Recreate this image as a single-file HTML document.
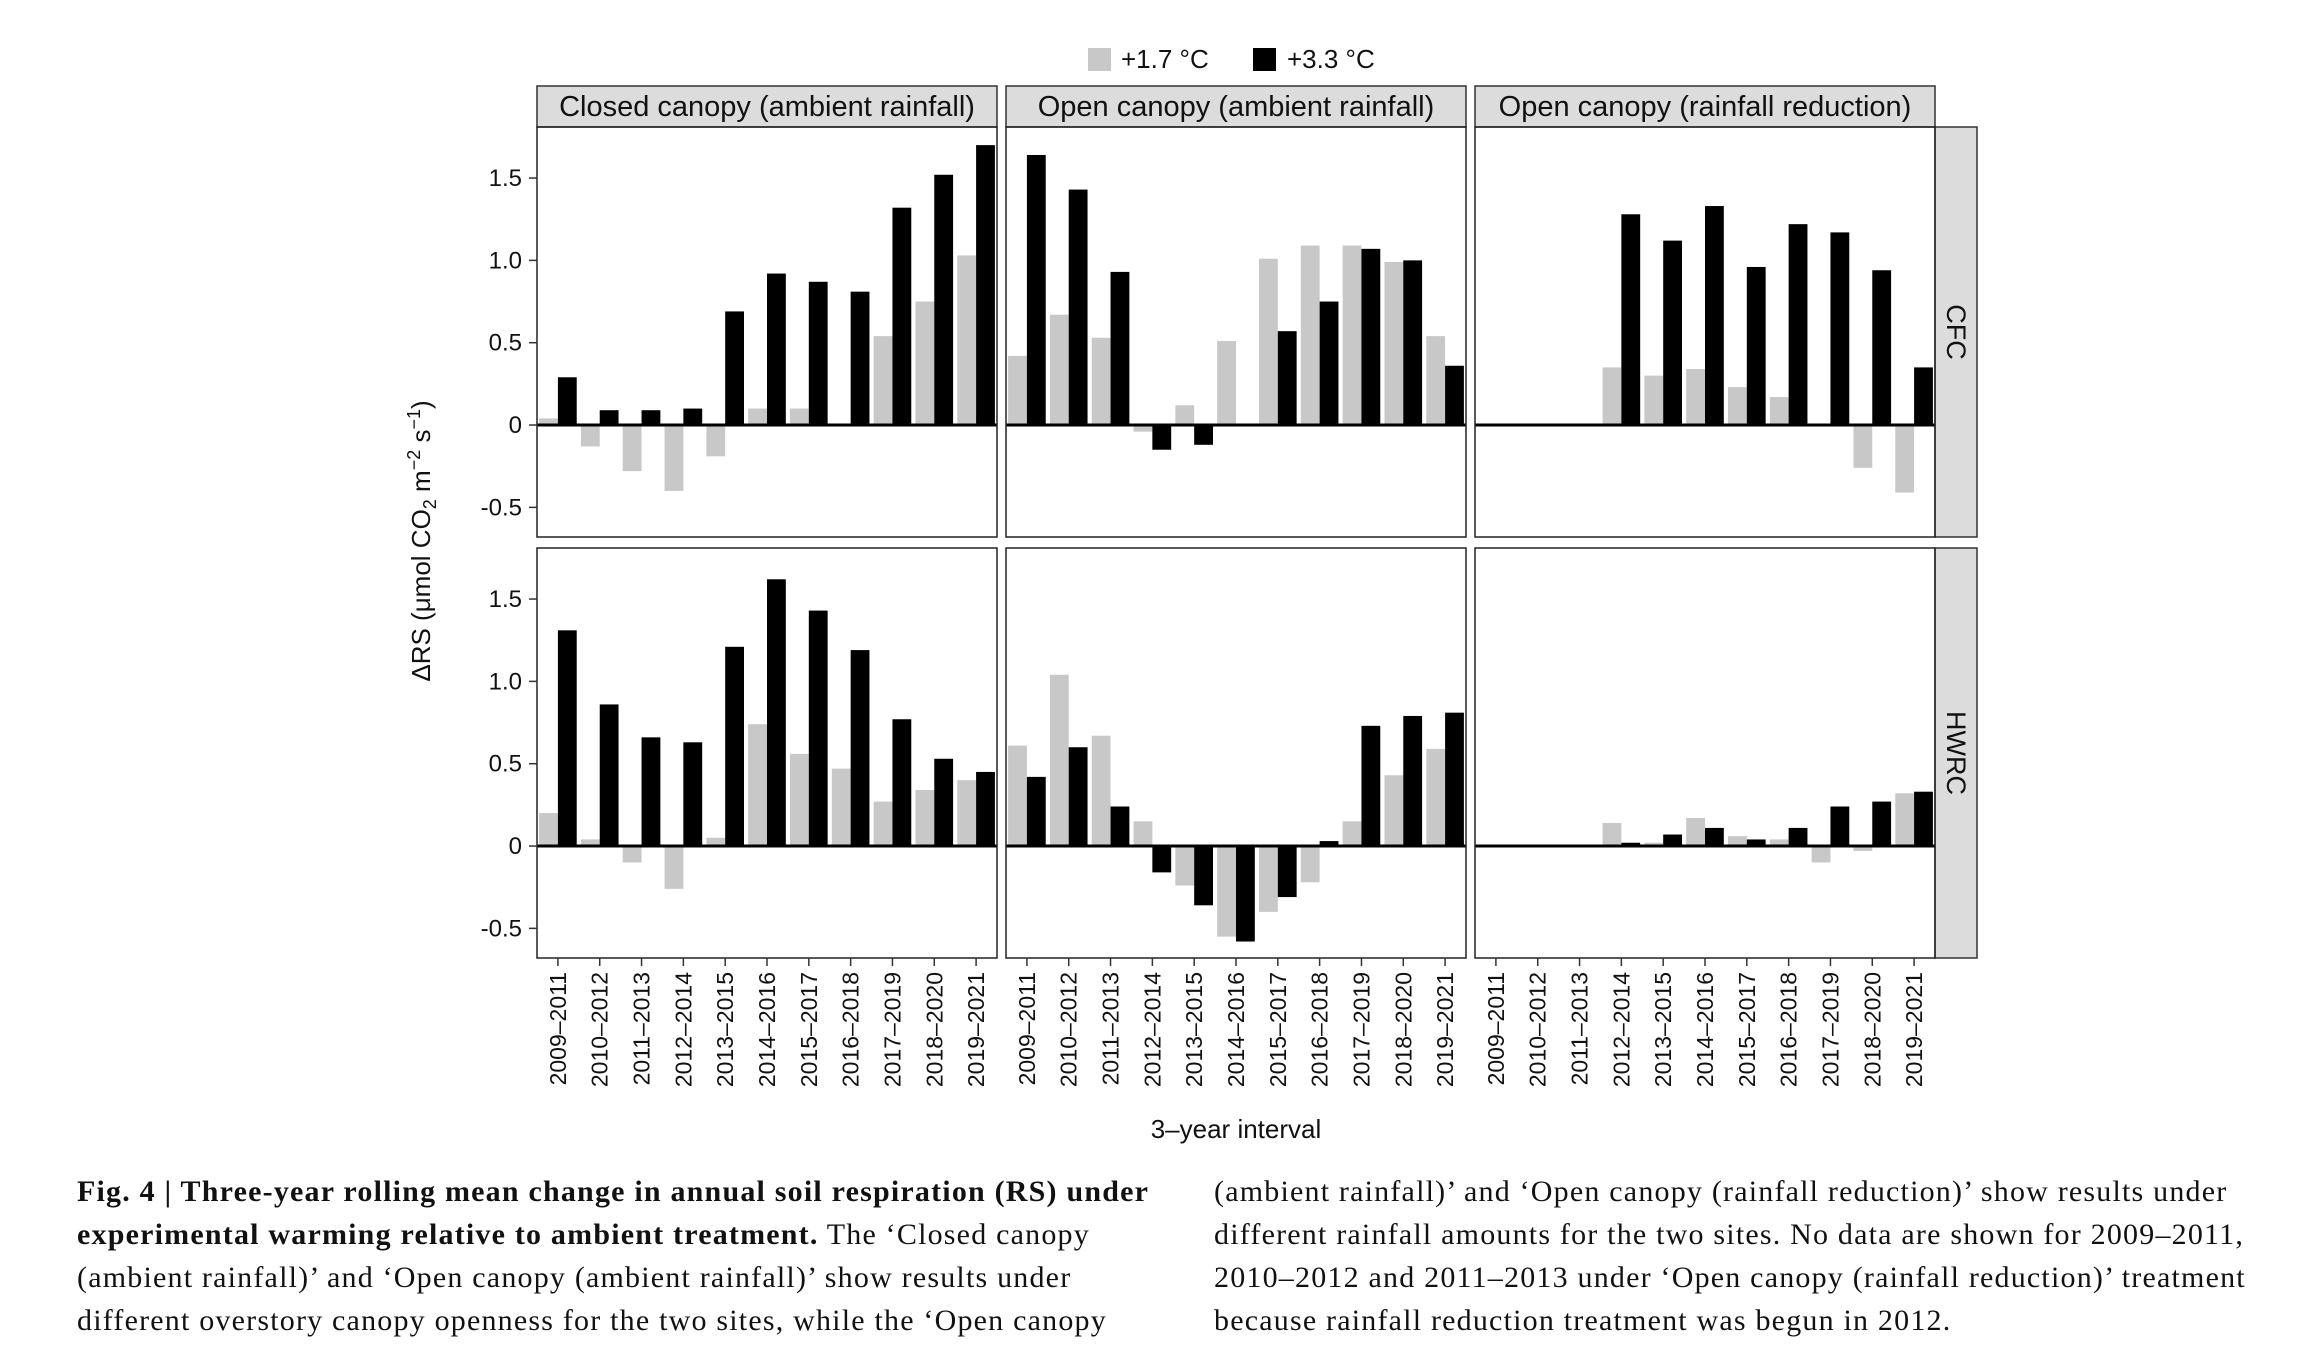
<!DOCTYPE html>
<html><head><meta charset="utf-8">
<style>
body{margin:0;background:#fff;width:2306px;height:1368px;overflow:hidden;position:relative;font-family:"Liberation Sans",sans-serif}
.cap{position:absolute;font-family:"Liberation Serif",serif;font-size:30px;letter-spacing:1.2px;color:#111;white-space:nowrap;line-height:43px}
</style></head><body>
<svg id="chart" width="2306" height="1150" style="position:absolute;left:0;top:0" font-family="Liberation Sans, sans-serif"></svg>
<div class="cap" style="left:77px;top:1170px">
<b>Fig. 4 | Three-year rolling mean change in annual soil respiration (RS) under</b><br>
<b>experimental warming relative to ambient treatment.</b> The ‘Closed canopy<br>
(ambient rainfall)’ and ‘Open canopy (ambient rainfall)’ show results under<br>
different overstory canopy openness for the two sites, while the ‘Open canopy</div>
<div class="cap" style="left:1214px;top:1170px">
(ambient rainfall)’ and ‘Open canopy (rainfall reduction)’ show results under<br>
different rainfall amounts for the two sites. No data are shown for 2009–2011,<br>
2010–2012 and 2011–2013 under ‘Open canopy (rainfall reduction)’ treatment<br>
because rainfall reduction treatment was begun in 2012.</div>
<script>
const categories=["2009–2011","2010–2012","2011–2013","2012–2014","2013–2015","2014–2016","2015–2017","2016–2018","2017–2019","2018–2020","2019–2021"];
const columns=["Closed canopy (ambient rainfall)","Open canopy (ambient rainfall)","Open canopy (rainfall reduction)"];
const rows=["CFC","HWRC"];
const yTicks=[-0.5,0,0.5,1.0,1.5];
const yTickLabels=["-0.5","0","0.5","1.0","1.5"];
const cfcClosedLow=[0.04,-0.13,-0.28,-0.40,-0.19,0.10,0.10,0.0,0.54,0.75,1.03];
const cfcClosedHigh=[0.29,0.09,0.09,0.10,0.69,0.92,0.87,0.81,1.32,1.52,1.70];
const cfcOpenLow=[0.42,0.67,0.53,-0.04,0.12,0.51,1.01,1.09,1.09,0.99,0.54];
const cfcOpenHigh=[1.64,1.43,0.93,-0.15,-0.12,0.0,0.57,0.75,1.07,1.00,0.36];
const cfcRedLow=[0,0,0,0.35,0.30,0.34,0.23,0.17,0.0,-0.26,-0.41];
const cfcRedHigh=[0,0,0,1.28,1.12,1.33,0.96,1.22,1.17,0.94,0.35];
const hwClosedLow=[0.20,0.04,-0.10,-0.26,0.05,0.74,0.56,0.47,0.27,0.34,0.40];
const hwClosedHigh=[1.31,0.86,0.66,0.63,1.21,1.62,1.43,1.19,0.77,0.53,0.45];
const hwOpenLow=[0.61,1.04,0.67,0.15,-0.24,-0.55,-0.40,-0.22,0.15,0.43,0.59];
const hwOpenHigh=[0.42,0.60,0.24,-0.16,-0.36,-0.58,-0.31,0.03,0.73,0.79,0.81];
const hwRedLow=[0,0,0,0.14,0.02,0.17,0.06,0.04,-0.10,-0.03,0.32];
const hwRedHigh=[0,0,0,0.02,0.07,0.11,0.04,0.11,0.24,0.27,0.33];
const lowSeries=[[cfcClosedLow,cfcOpenLow,cfcRedLow],[hwClosedLow,hwOpenLow,hwRedLow]];
const highSeries=[[cfcClosedHigh,cfcOpenHigh,cfcRedHigh],[hwClosedHigh,hwOpenHigh,hwRedHigh]];

const svg=document.getElementById('chart');
const NS="http://www.w3.org/2000/svg";
function mk(t,a,p){const e=document.createElementNS(NS,t);for(const k in a)e.setAttribute(k,a[k]);(p||svg).appendChild(e);return e;}
const colX=[537,1006,1475],PW=460;
const rowY=[127,548],PH=410;
const yMin=-0.68,yMax=1.81;
function yScale(r,v){return rowY[r]+(yMax-v)/(yMax-yMin)*PH;}
function xBand(c,i){return colX[c]+(i+0.5)*PW/categories.length;}
const band=PW/categories.length, bw=band*0.45;

let e;
e=mk('rect',{x:1088,y:48,width:23,height:23,fill:'#c8c8c8'});

e=mk('text',{x:1121,y:68,'font-size':26,fill:'#111'});e.textContent='+1.7 °C';

e=mk('rect',{x:1253,y:48,width:23,height:23,fill:'#000'});

e=mk('text',{x:1287,y:68,'font-size':26,fill:'#111'});e.textContent='+3.3 °C';


columns.forEach((c,ci)=>{
  e=mk('rect',{x:colX[ci],y:86,width:PW,height:41,fill:'#dcdcdc',stroke:'#333','stroke-width':1.5});
  
  e=mk('text',{x:colX[ci]+PW/2,y:116,'font-size':29,'text-anchor':'middle',fill:'#111'});e.textContent=c;
  
});
rows.forEach((r,ri)=>{
  e=mk('rect',{x:colX[2]+PW,y:rowY[ri],width:42,height:PH,fill:'#dcdcdc',stroke:'#333','stroke-width':1.5});
  
  const cx=colX[2]+PW+21,cy=rowY[ri]+PH/2;
  e=mk('text',{x:cx,y:cy,'font-size':27,'text-anchor':'middle','dominant-baseline':'central',transform:`rotate(90 ${cx} ${cy})`,fill:'#111'});e.textContent=r;
  
});

for(let r=0;r<2;r++){
  for(let c=0;c<3;c++){
    const g=mk('g',{});
    
    
    const y0=yScale(r,0);
    categories.forEach((cat,i)=>{
      const xc=xBand(c,i);
      const lv=lowSeries[r][c][i],hv=highSeries[r][c][i];
      let b=mk('rect',{x:xc-bw,y:Math.min(y0,yScale(r,lv)),width:bw,height:Math.abs(yScale(r,lv)-y0),fill:'#c8c8c8'},g);
      
      
      b=mk('rect',{x:xc,y:Math.min(y0,yScale(r,hv)),width:bw,height:Math.abs(yScale(r,hv)-y0),fill:'#000'},g);
      
      
    });
    mk('line',{x1:colX[c],x2:colX[c]+PW,y1:y0,y2:y0,stroke:'#000','stroke-width':3},g);
    mk('rect',{x:colX[c],y:rowY[r],width:PW,height:PH,fill:'none',stroke:'#222','stroke-width':1.5},g);
  }
  yTicks.forEach((t,i)=>{
    const y=yScale(r,t);
    mk('line',{x1:529,x2:537,y1:y,y2:y,stroke:'#333','stroke-width':1.5});
    e=mk('text',{x:522,y:y+8,'font-size':24,'text-anchor':'end',fill:'#111'});e.textContent=yTickLabels[i];
    
  });
}
for(let c=0;c<3;c++){
  categories.forEach((cat,i)=>{
    const x=xBand(c,i),y=rowY[1]+PH;
    mk('line',{x1:x,x2:x,y1:y,y2:y+8,stroke:'#333','stroke-width':1.5});
    e=mk('text',{x:x,y:y+14,'font-size':23,'text-anchor':'end','dominant-baseline':'central',transform:`rotate(-90 ${x} ${y+14})`,fill:'#111'});e.textContent=cat;
    
  });
}
e=mk('text',{x:1236,y:1138,'font-size':26,'text-anchor':'middle',fill:'#111'});e.textContent='3–year interval';

e=mk('text',{x:0,y:0,'font-size':26,'text-anchor':'middle',transform:'translate(430 541) rotate(-90)',fill:'#111'});
e.innerHTML='ΔRS (μmol CO<tspan font-size="18" dy="6">2</tspan><tspan dy="-6"> m</tspan><tspan font-size="18" dy="-10">−2</tspan><tspan dy="10"> s</tspan><tspan font-size="18" dy="-10">−1</tspan><tspan dy="10">)</tspan>';

</script>
</body></html>
